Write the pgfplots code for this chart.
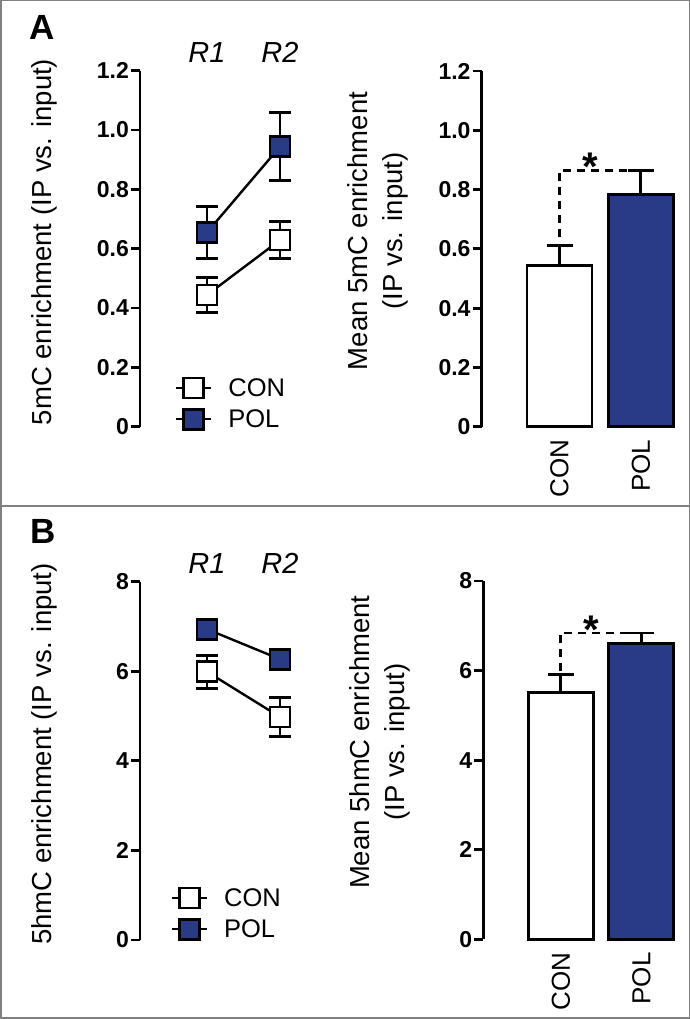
\documentclass[border=0pt]{standalone}
\usepackage{fontspec}
\setmainfont{Liberation Sans}
\usepackage{pgfplots}
\pgfplotsset{compat=1.18}
\definecolor{navy}{RGB}{41,58,135}
\definecolor{framegray}{RGB}{128,128,128}

\pgfplotsset{
  base/.style={scale only axis, clip=false, axis y line=left,
    axis line style={-, line width=2.8pt, black},
    tick align=outside, major tick length=9pt,
    ytick style={line width=2.8pt, black},
    yticklabel style={font=\fontsize{23}{23}\selectfont\bfseries, inner sep=2pt},
    every axis y label/.style={rotate=90, anchor=center, align=center, font=\fontsize{27.5}{35}\selectfont},
  },
  lineax/.style={base, axis x line=none, xmin=0.082, xmax=2.5, width=176.5pt,
    legend cell align=left,
    legend style={draw=none, fill=none, font=\fontsize{25.5}{25.5}\selectfont, row sep=8pt, column sep=14pt, anchor=north west},
    legend image code/.code={\draw[mark repeat=2, mark phase=2] plot coordinates {(0pt,0pt) (17.5pt,0pt) (35pt,0pt)};},
  },
  linestyle/.style={black, line width=2.4pt, mark=square*, mark size=10pt,
    mark options={solid, line width=2.7pt, draw=black, fill=#1},
    error bars/y dir=both, error bars/y explicit,
    error bars/error bar style={line width=2.8pt, black},
    error bars/error mark options={rotate=90, mark size=11pt, line width=2.8pt, black}},
  barax/.style={base, axis x line*=bottom, x axis line style={draw=none}, xtick style={draw=none},
    xtick={1,2}, xticklabels={CON,POL},
    xticklabel style={rotate=90, anchor=east, font=\fontsize{26}{26}\selectfont, inner sep=4pt}, xmax=2.5},
  barstyle/.style={ybar, bar width=65pt, bar shift=0pt, draw=black, line width=2.8pt, fill=#1,
    error bars/y dir=plus, error bars/y explicit,
    error bars/error bar style={line width=2.8pt, black},
    error bars/error mark options={rotate=90, mark size=13pt, line width=2.8pt, black}},
}

\begin{document}
\begin{tikzpicture}[x=1pt,y=1pt]
\useasboundingbox (0,0) rectangle (690,1019);
\draw[framegray, line width=1.5pt] (0.75,0.75) rectangle (689.25,1018.25);
\draw[framegray, line width=1.5pt] (0,513) -- (690,513);

\node[font=\fontsize{35}{35}\selectfont\bfseries] at (42.5,991.5) {A};
\node[font=\fontsize{35}{35}\selectfont\bfseries] at (43.5,488) {B};

% ---------- A left ----------
\begin{axis}[lineax, at={(140pt,592.3pt)}, anchor=south west, height=356pt,
  ymin=0, ymax=1.2, ytick={0,0.2,0.4,0.6,0.8,1.0,1.2},
  yticklabels={0,0.2,0.4,0.6,0.8,1.0,1.2},
  ylabel={5mC enrichment (IP vs. input)},
  ylabel style={at={(axis description cs:-0.544,0.519)}},
  legend style={at={(0.18,0.148)}}]
\addplot[linestyle=white] coordinates {(1,0.444) +- (0,0.060) (2,0.629) +- (0,0.062)};
\addplot[linestyle=navy] coordinates {(1,0.655) +- (0,0.087) (2,0.944) +- (0,0.114)};
\legend{CON,POL}
\node[font=\fontsize{29}{29}\selectfont\itshape] at (axis cs:1,1.261) {R1};
\node[font=\fontsize{29}{29}\selectfont\itshape] at (axis cs:2,1.261) {R2};
\end{axis}

% ---------- A right ----------
\begin{axis}[barax, at={(481.7pt,592.3pt)}, anchor=south west, width=199.8pt, height=355.7pt,
  xmin=0.043, ymin=0, ymax=1.2, ytick={0,0.2,0.4,0.6,0.8,1.0,1.2},
  yticklabels={0,0.2,0.4,0.6,0.8,1.0,1.2},
  ylabel={Mean 5mC enrichment\\(IP vs. input)},
  ylabel style={at={(axis description cs:-0.519,0.55)}}]
\addplot[barstyle=white] coordinates {(1,0.545) +- (0,0.067)};
\addplot[barstyle=navy] coordinates {(2,0.783) +- (0,0.082)};
\draw[line width=2.8pt, dash pattern=on 8pt off 6pt] (axis cs:1,0.64) -- (axis cs:1,0.865) -- (axis cs:1.84,0.865);
\node[font=\fontsize{40}{40}\selectfont\bfseries, anchor=base] at (axis cs:1.375,0.83) {*};
\end{axis}

% ---------- B left ----------
\begin{axis}[lineax, at={(140pt,79pt)}, anchor=south west, height=358.3pt,
  ymin=0, ymax=8, ytick={0,2,4,6,8},
  yticklabels={0,2,4,6,8},
  ylabel={5hmC enrichment (IP vs. input)},
  ylabel style={at={(axis description cs:-0.544,0.519)}},
  legend style={at={(0.156,0.156)}}]
\addplot[linestyle=white] coordinates {(1,5.99) +- (0,0.37) (2,4.98) +- (0,0.44)};
\addplot[linestyle=navy] coordinates {(1,6.94) +- (0,0.15) (2,6.27) +- (0,0.15)};
\legend{CON,POL}
\node[font=\fontsize{29}{29}\selectfont\itshape] at (axis cs:1,8.415) {R1};
\node[font=\fontsize{29}{29}\selectfont\itshape] at (axis cs:2,8.415) {R2};
\end{axis}

% ---------- B right ----------
\begin{axis}[barax, at={(483.3pt,79.7pt)}, anchor=south west, width=198.3pt, height=358.3pt,
  xmin=0.037, ymin=0, ymax=8, ytick={0,2,4,6,8},
  yticklabels={0,2,4,6,8},
  ylabel={Mean 5hmC enrichment\\(IP vs. input)},
  ylabel style={at={(axis description cs:-0.519,0.55)}}]
\addplot[barstyle=white] coordinates {(1,5.51) +- (0,0.41)};
\addplot[barstyle=navy] coordinates {(2,6.61) +- (0,0.23)};
\draw[line width=2.8pt, dash pattern=on 8pt off 6pt] (axis cs:1,5.98) -- (axis cs:1,6.84) -- (axis cs:1.84,6.84);
\node[font=\fontsize{40}{40}\selectfont\bfseries, anchor=base] at (axis cs:1.384,6.6) {*};
\end{axis}
\end{tikzpicture}
\end{document}
